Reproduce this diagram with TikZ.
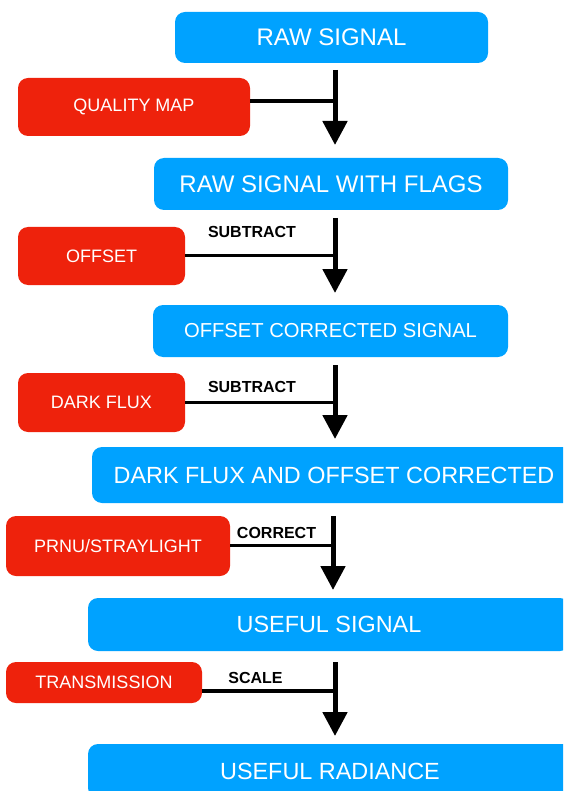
\documentclass[tikz,border=0pt]{standalone}
\usepackage{fontspec}
\setmainfont{Liberation Sans}
\usetikzlibrary{arrows.meta}
\definecolor{boxblue}{RGB}{0,162,255}
\definecolor{boxred}{RGB}{238,34,12}
\tikzset{
  bluebox/.style={fill=boxblue, rounded corners=10pt, text=white, inner sep=0pt, align=center},
  redbox/.style={fill=boxred, rounded corners=10pt, text=white, inner sep=0pt, align=center, font=\fontsize{18}{20}\selectfont},
  flowarrow/.style={line width=5pt, -{Triangle[width=24pt,length=24pt]}},
  hline/.style={line width=3.5pt},
  lbl/.style={font=\bfseries\fontsize{16}{18}\selectfont, inner sep=0pt}
}
\begin{document}
\begin{tikzpicture}[x=1pt,y=-1pt]
\useasboundingbox (0,0) rectangle (563,791);
\clip (0,0) rectangle (563,791);
% blue boxes
\node[bluebox, minimum width=313pt, minimum height=51pt, font=\fontsize{24}{26}\selectfont] (b1) at (331.5,37.5) {RAW SIGNAL};
\node[bluebox, minimum width=354pt, minimum height=52pt, font=\fontsize{24}{26}\selectfont] (b2) at (331,184) {RAW SIGNAL WITH FLAGS};
\node[bluebox, minimum width=355pt, minimum height=52pt, font=\fontsize{20.2}{22}\selectfont] (b3) at (330.5,331) {OFFSET CORRECTED SIGNAL};
\node[bluebox, minimum width=484pt, minimum height=56pt, font=\fontsize{23.4}{25}\selectfont] (b4) at (334,475) {DARK FLUX AND OFFSET CORRECTED};
\node[bluebox, minimum width=482pt, minimum height=53pt, font=\fontsize{23.4}{25}\selectfont] (b5) at (329,624.5) {USEFUL SIGNAL};
\node[bluebox, minimum width=484pt, minimum height=54pt, font=\fontsize{23.4}{25}\selectfont] (b6) at (330,771) {USEFUL RADIANCE};
% red boxes
\node[redbox, minimum width=232pt, minimum height=58pt] (r1) at (134,107) {QUALITY MAP};
\node[redbox, minimum width=167pt, minimum height=58pt] (r2) at (101.5,256) {OFFSET};
\node[redbox, minimum width=167pt, minimum height=59pt] (r3) at (101.5,402.5) {DARK FLUX};
\node[redbox, minimum width=224pt, minimum height=60pt] (r4) at (118,546) {PRNU/STRAYLIGHT};
\node[redbox, minimum width=196pt, minimum height=41pt] (r5) at (104,682.5) {TRANSMISSION};
% arrow end points
\coordinate (a1s) at (335,70);  \coordinate (a1e) at (335,145);
\coordinate (a2s) at (335,218); \coordinate (a2e) at (335,293);
\coordinate (a3s) at (335,365); \coordinate (a3e) at (335,439);
\coordinate (a4s) at (333,516); \coordinate (a4e) at (333,590);
\coordinate (a5s) at (335,662); \coordinate (a5e) at (335,736);
% junctions
\coordinate (j1) at (335,101);
\coordinate (j2) at (335,255.7);
\coordinate (j3) at (335,402.3);
\coordinate (j4) at (333,545.7);
\coordinate (j5) at (335,691);
% side lines
\draw[hline] (j1 -| r1.east) -- (j1);
\draw[hline] (j2 -| r2.east) -- (j2);
\draw[hline] (j3 -| r3.east) -- (j3);
\draw[hline] (j4 -| r4.east) -- (j4);
\draw[hline] (j5 -| r5.east) -- (j5);
% main arrows
\draw[flowarrow] (a1s) -- (a1e);
\draw[flowarrow] (a2s) -- (a2e);
\draw[flowarrow] (a3s) -- (a3e);
\draw[flowarrow] (a4s) -- (a4e);
\draw[flowarrow] (a5s) -- (a5e);
% labels
\node[lbl] (l2) at (252,232) {SUBTRACT};
\node[lbl] (l3) at (252,387) {SUBTRACT};
\node[lbl] (l4) at (276.5,533) {CORRECT};
\node[lbl] (l5) at (255.5,678) {SCALE};
\end{tikzpicture}
\end{document}
